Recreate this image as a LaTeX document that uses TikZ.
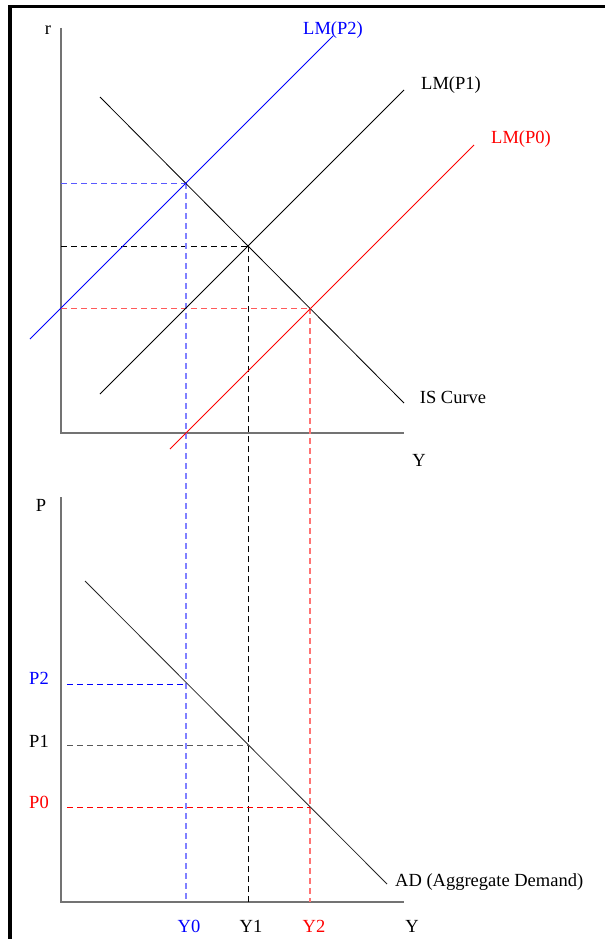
\documentclass[tikz,border=0pt]{standalone}
\usepackage{fontspec}
\setmainfont{Liberation Serif}
\begin{document}
\begin{tikzpicture}[x=1pt,y=-1pt,
  lbl/.style={inner sep=0pt,font=\fontsize{18.5}{20}\selectfont},
  axis/.style={draw=black!55,line width=1.2pt},
  curve/.style={line width=0.8pt},
  dsh/.style={dash pattern=on 6pt off 4pt,line width=0.9pt},
  dshv/.style={dash pattern=on 6pt off 4pt,line width=1.4pt}]
\useasboundingbox (0,0) rectangle (605,939);
\fill[white] (0,0) rectangle (605,939);
% frame
\draw[line width=3.5pt] (10,939) -- (10,6.5) -- (605,6.5);
% top panel axes
\coordinate (rtop) at (61,28);
\coordinate (o1) at (61,433);
\coordinate (yend1) at (404,433);
\draw[axis] (rtop) -- (o1) -- (yend1);
% bottom panel axes
\coordinate (ptop) at (61,497);
\coordinate (o2) at (61,902);
\coordinate (yend2) at (404,902);
\draw[axis] (ptop) -- (o2) -- (yend2);
% intersection points
\coordinate (e2) at (186,183);
\coordinate (e1) at (248,246);
\coordinate (e0) at (310,308);
\coordinate (a2) at (61,183);
\coordinate (a1) at (61,246);
\coordinate (a0) at (61,308);
\coordinate (q2) at (67,684);
\coordinate (q1) at (67,745);
\coordinate (q0) at (67,807);
\coordinate (d2) at (186,684);
\coordinate (d1) at (248,745);
\coordinate (d0) at (310,807);
\coordinate (b2) at (186,902);
\coordinate (b1) at (248,902);
\coordinate (b0) at (310,902);
% dashed guides
\draw[dsh,draw=blue!65] (a2) -- (e2);
\draw[dsh,draw=black] (a1) -- (e1);
\draw[dsh,draw=red!65] (a0) -- (e0);
\draw[dshv,draw=blue!50] (e2) -- (b2);
\draw[dsh,draw=black] (e1) -- (b1);
\draw[dshv,draw=red!55] (e0) -- (b0);
\draw[dsh,draw=blue] (q2) -- (d2);
\draw[dsh,draw=black!65] (q1) -- (d1);
\draw[dsh,draw=red] (q0) -- (d0);
% curves
\coordinate (is1) at (100,97);
\coordinate (is2) at (404,403);
\draw[curve] (is1) -- (is2);
\coordinate (lm1a) at (100,394);
\coordinate (lm1b) at (404,90);
\draw[curve] (lm1a) -- (lm1b);
\coordinate (lm2a) at (30,339);
\coordinate (lm2b) at (333,36);
\draw[curve,blue] (lm2a) -- (lm2b);
\coordinate (lm0a) at (170,449);
\coordinate (lm0b) at (474,145);
\draw[curve,red] (lm0a) -- (lm0b);
\coordinate (ad1) at (85,581);
\coordinate (ad2) at (387,884);
\draw[curve,black!85] (ad1) -- (ad2);
% labels
\node[lbl] (lr) at (48,30) {r};
\node[lbl,blue] (llm2) at (333,30) {LM(P2)};
\node[lbl] (llm1) at (451,85) {LM(P1)};
\node[lbl,red] (llm0) at (521,139) {LM(P0)};
\node[lbl] (lis) at (453,397) {IS Curve};
\node[lbl] (ly1) at (419,460) {Y};
\node[lbl] (lp) at (41,505) {P};
\node[lbl,blue] (lp2) at (39,678) {P2};
\node[lbl] (lp1) at (39,741) {P1};
\node[lbl,red] (lp0) at (39,802) {P0};
\node[lbl,blue] (ly0) at (189,926) {Y0};
\node[lbl] (lyy1) at (251,926) {Y1};
\node[lbl,red] (ly2) at (314,926) {Y2};
\node[lbl] (ly) at (412,926) {Y};
\node[lbl,anchor=west] (lad) at (395,882) {AD (Aggregate Demand)};
\end{tikzpicture}
\end{document}
